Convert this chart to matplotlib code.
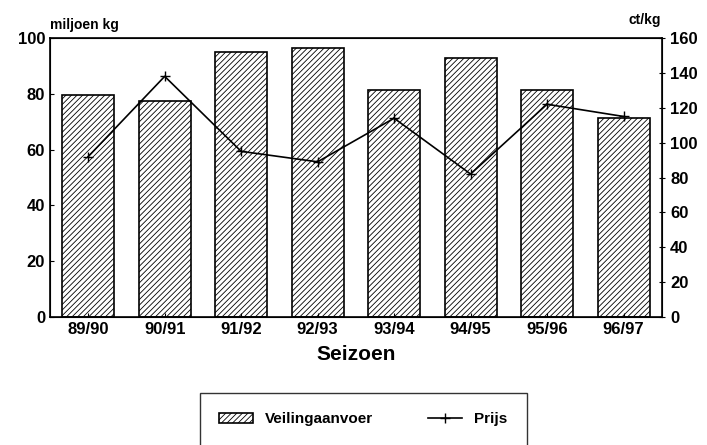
import matplotlib.pyplot as plt
import numpy as np

plt.rcParams['font.family'] = ['Liberation Sans', 'DejaVu Sans']
plt.rcParams['font.weight'] = 'bold'
plt.rcParams['hatch.linewidth'] = 0.6

seasons = ["89/90", "90/91", "91/92", "92/93", "93/94", "94/95", "95/96", "96/97"]
aanvoer = [79.5, 77.3, 95.0, 96.5, 81.4, 92.8, 81.4, 71.5]   # miljoen kg
prijs = [92, 138, 95, 89, 114, 82, 122, 115]                  # ct/kg

fig = plt.figure(figsize=(7.07, 4.45), dpi=100)
ax = fig.add_axes([0.0707, 0.2876, 0.8653, 0.627])
x = np.arange(len(seasons))
ax.bar(x, aanvoer, width=0.68, color='white', edgecolor='black',
       hatch='//////', linewidth=1.2, label='Veilingaanvoer')
ax.set_xlim(-0.5, 7.5)
ax.set_ylim(0, 100)
ax.set_yticks(range(0, 101, 20))
ax.set_xticks(x)
ax.set_xticklabels(seasons)
ax.tick_params(axis='both', labelsize=12, length=3, direction='in', width=0.8)
ax.set_xlabel("Seizoen", fontsize=15, fontweight='bold', labelpad=6)
for s in ax.spines.values():
    s.set_linewidth(1.2)

ax2 = ax.twinx()
ax2.plot(x, prijs, color='black', marker='+', markersize=7, linewidth=1.2,
         label='Prijs')
ax2.set_ylim(0, 160)
ax2.set_yticks(range(0, 161, 20))
ax2.tick_params(axis='y', labelsize=12, length=5, direction='inout', width=0.8)

fig.text(0.0707, 0.935, "miljoen kg", fontsize=10, fontweight='bold', ha='left')
fig.text(0.935, 0.945, "ct/kg", fontsize=10, fontweight='bold', ha='right')

h1, l1 = ax.get_legend_handles_labels()
h2, l2 = ax2.get_legend_handles_labels()
leg = fig.legend(h1 + h2, l1 + l2, loc='lower center', bbox_to_anchor=(0.514, -0.02),
                 ncol=2, fontsize=11, frameon=True, fancybox=False,
                 edgecolor='black', handlelength=2.2, columnspacing=3.6,
                 borderpad=1.3)
leg.get_frame().set_linewidth(1.0)

fig.savefig("out.png", dpi=100)
